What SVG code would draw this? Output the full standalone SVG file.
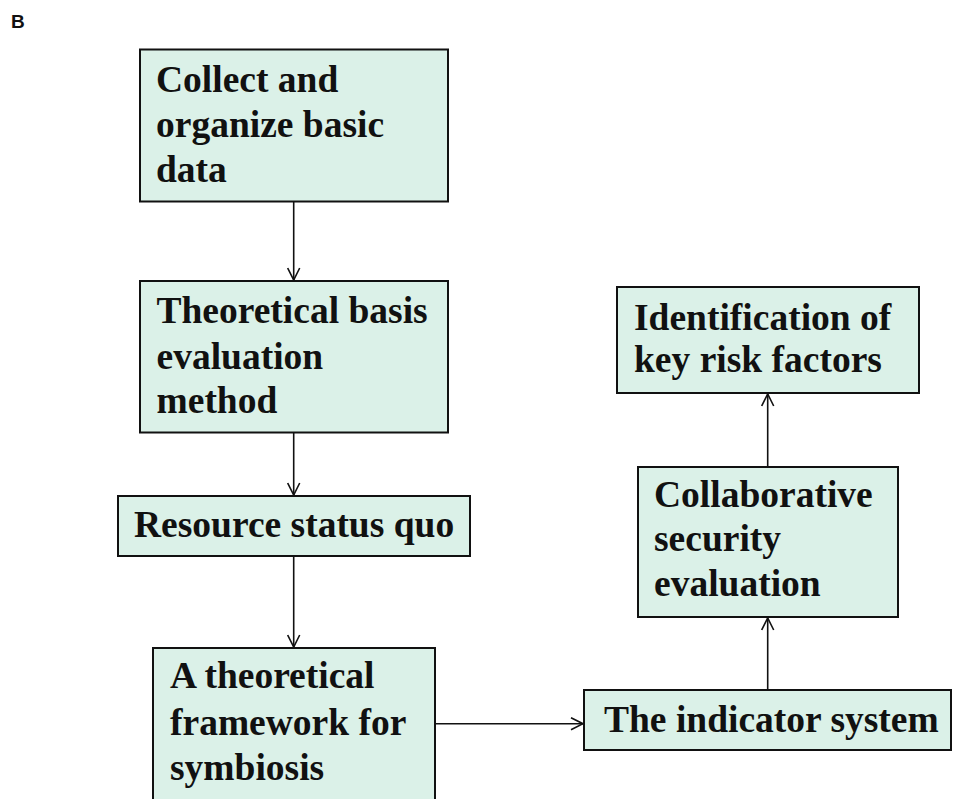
<svg xmlns="http://www.w3.org/2000/svg" width="953" height="799" viewBox="0 0 953 799">
<defs>
<marker id="arr" viewBox="0 0 14 14" refX="13" refY="7" markerWidth="14" markerHeight="14" markerUnits="userSpaceOnUse" orient="auto">
<path d="M1,1 L13,7 L1,13" fill="none" stroke="#111" stroke-width="1.6"/>
</marker>
<style>
.box{fill:#dbf1e8;stroke:#111;stroke-width:2}
.t{font-family:"Liberation Serif","Times New Roman",serif;font-weight:bold;font-size:37.5px;fill:#111}
.c{stroke:#111;stroke-width:1.6;fill:none;marker-end:url(#arr)}
</style>
</defs>
<rect width="953" height="799" fill="#fff"/>
<text x="11" y="28" font-family="Liberation Sans, Arial, sans-serif" font-weight="bold" font-size="19" fill="#111">B</text>
<g id="connectors">
<line class="c" x1="293.7" y1="201" x2="293.7" y2="280"/>
<line class="c" x1="293.7" y1="433" x2="293.7" y2="495"/>
<line class="c" x1="293.7" y1="556" x2="293.7" y2="647"/>
<line class="c" x1="435" y1="723.7" x2="583" y2="723.7"/>
<line class="c" x1="767.7" y1="690" x2="767.7" y2="618"/>
<line class="c" x1="767.7" y1="467" x2="767.7" y2="394"/>
</g>
<g id="n1"><rect class="box" x="140" y="49.5" width="308" height="152"/>
<text class="t" x="156" y="92">Collect and</text><text class="t" x="156" y="137">organize basic</text><text class="t" x="156" y="182">data</text></g>
<g id="n2"><rect class="box" x="140" y="281" width="308" height="151.5"/>
<text class="t" x="156.5" y="323">Theoretical basis</text><text class="t" x="156.5" y="368.5">evaluation</text><text class="t" x="156.5" y="413">method</text></g>
<g id="n3"><rect class="box" x="118" y="496" width="352" height="60"/>
<text class="t" x="134" y="537">Resource status quo</text></g>
<g id="n4"><rect class="box" x="153" y="648" width="282" height="160"/>
<text class="t" x="170" y="688">A theoretical</text><text class="t" x="170" y="735">framework for</text><text class="t" x="170" y="780">symbiosis</text></g>
<g id="n5"><rect class="box" x="584" y="690" width="367" height="60"/>
<text class="t" x="604" y="732">The indicator system</text></g>
<g id="n6"><rect class="box" x="638" y="467" width="260" height="150"/>
<text class="t" x="654" y="507">Collaborative</text><text class="t" x="654" y="551">security</text><text class="t" x="654" y="596">evaluation</text></g>
<g id="n7"><rect class="box" x="617" y="287" width="302" height="106"/>
<text class="t" x="634" y="330">Identification of</text><text class="t" x="634" y="372">key risk factors</text></g>
</svg>
